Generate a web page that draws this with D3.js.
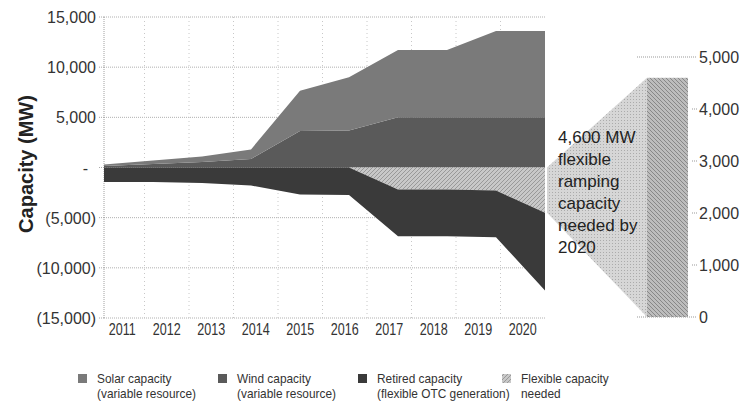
<!DOCTYPE html>
<html>
<head>
<meta charset="utf-8">
<script src="https://cdn.jsdelivr.net/npm/d3@7"></script>
<style>
  body { margin: 0; background: #fff; }
  svg { display: block; font-family: "Liberation Sans", Arial, sans-serif; }
</style>
</head>
<body>
<svg id="chart" width="744" height="408"></svg>
<script>
// data (MW)
const years = ["2011", "2012", "2013", "2014", "2015", "2016", "2017", "2018", "2019", "2020"];
const wind = [150, 350, 550, 850, 3650, 3700, 5000, 5000, 5000, 5000];
const solar = [150, 350, 550, 950, 4000, 5300, 6700, 6700, 8600, 8600];
const flexible = [0, 0, 0, 0, 0, 0, -2200, -2200, -2300, -4500];
const retired = [-1450, -1450, -1550, -1800, -2700, -2750, -4650, -4650, -4650, -7750];
const leftTicks = [15000, 10000, 5000, 0, -5000, -10000, -15000];
const rightTicks = [0, 1000, 2000, 3000, 4000, 5000];
const flexNeeded2020 = 4600;
const noteLines = ["4,600 MW", "flexible", "ramping", "capacity", "needed by", "2020"];
const legendItems = [
  { key: "solar", l1: "Solar capacity", l2: "(variable resource)" },
  { key: "wind", l1: "Wind capacity", l2: "(variable resource)" },
  { key: "retired", l1: "Retired capacity", l2: "(flexible OTC generation)" },
  { key: "flexible", l1: "Flexible capacity", l2: "needed" }
];

const fills = {
  solar: "#7a7a7a",
  wind: "#5a5a5a",
  retired: "#3a3a3a",
  flexible: "url(#flexHatch)"
};

const svg = d3.select("#chart");
const defs = svg.append("defs");

// hatch patterns
const p1 = defs.append("pattern").attr("id", "flexHatch")
  .attr("width", 4).attr("height", 4).attr("patternUnits", "userSpaceOnUse");
p1.append("rect").attr("width", 4).attr("height", 4).attr("fill", "#c8c8c8");
p1.append("path").attr("d", "M0,4 L4,0 M-1,1 L1,-1 M3,5 L5,3")
  .attr("stroke", "#999").attr("stroke-width", 1);

const p2 = defs.append("pattern").attr("id", "barHatch")
  .attr("width", 4).attr("height", 4).attr("patternUnits", "userSpaceOnUse");
p2.append("rect").attr("width", 4).attr("height", 4).attr("fill", "#bdbdbd");
p2.append("path").attr("d", "M0,0 L4,4 M-1,3 L1,5 M3,-1 L5,1")
  .attr("stroke", "#888").attr("stroke-width", 1);

const p3 = defs.append("pattern").attr("id", "trapDots")
  .attr("width", 3).attr("height", 3).attr("patternUnits", "userSpaceOnUse");
p3.append("rect").attr("width", 3).attr("height", 3).attr("fill", "#d6d6d6");
p3.append("rect").attr("width", 1).attr("height", 1).attr("fill", "#ababab");

// scales
const plotLeft = 104, plotRight = 545, plotTop = 17, plotBottom = 318;
const y = d3.scaleLinear().domain([-15000, 15000]).range([plotBottom, plotTop]);
const xPt = d3.scalePoint().domain(years).range([plotLeft, plotRight]);
const xBand = d3.scaleBand().domain(years).range([100, plotRight]);
const yR = d3.scaleLinear().domain([0, 5000]).range([317, 57]);

// gridlines
const grid = svg.append("g");
grid.selectAll(".hg").data(leftTicks).join("line")
  .attr("x1", plotLeft).attr("x2", plotRight)
  .attr("y1", d => y(d)).attr("y2", d => y(d))
  .attr("stroke", "#b0b0b0").attr("stroke-dasharray", "1,1");
grid.selectAll(".vg").data(years.slice(1)).join("line")
  .attr("x1", d => xBand(d)).attr("x2", d => xBand(d))
  .attr("y1", plotTop).attr("y2", plotBottom)
  .attr("stroke", "#c8c8c8").attr("stroke-dasharray", "1,3");
grid.append("line")
  .attr("x1", plotLeft).attr("x2", plotLeft)
  .attr("y1", plotTop).attr("y2", plotBottom)
  .attr("stroke", "#a0a0a0").attr("stroke-dasharray", "1,1");

// stacked areas
const rows = years.map((yr, i) => ({
  year: yr, wind: wind[i], solar: solar[i], flexible: flexible[i], retired: retired[i]
}));
const series = d3.stack()
  .keys(["wind", "solar", "flexible", "retired"])
  .offset(d3.stackOffsetDiverging)(rows);

const area = d3.area()
  .x(d => xPt(d.data.year))
  .y0(d => y(d[0]))
  .y1(d => y(d[1]));

svg.append("g").selectAll("path").data(series).join("path")
  .attr("d", area)
  .attr("fill", d => fills[d.key]);

// right panel: wedge and bar for 2020 flexible need
const flexSeries = series.find(s => s.key === "flexible");
const flexLast = flexSeries[flexSeries.length - 1];
const barX0 = 647, barX1 = 688;
svg.append("path")
  .attr("d", d3.line()([
    [plotRight + 2, y(flexLast[1])],
    [barX0, yR(flexNeeded2020)],
    [barX0, yR(0)],
    [plotRight + 2, y(flexLast[0])]
  ]) + "Z")
  .attr("fill", "url(#trapDots)");
svg.append("rect")
  .attr("x", barX0).attr("width", barX1 - barX0)
  .attr("y", yR(flexNeeded2020)).attr("height", yR(0) - yR(flexNeeded2020))
  .attr("fill", "url(#barHatch)");

// right axis
const rAxis = svg.append("g");
rAxis.selectAll("line.t").data(rightTicks).join("line")
  .attr("x1", d => (d === 0 || d === 5000) ? 637 : 692).attr("x2", 697)
  .attr("y1", d => yR(d)).attr("y2", d => yR(d))
  .attr("stroke", "#999").attr("stroke-dasharray", "1,1");
rAxis.selectAll("text").data(rightTicks).join("text")
  .attr("x", 699).attr("y", d => yR(d) + 6)
  .attr("font-size", 16).attr("fill", "#333")
  .text(d => d3.format(",")(d));

// annotation
svg.append("text")
  .attr("x", 558).attr("y", 143)
  .attr("font-size", 17).attr("fill", "#222")
  .selectAll("tspan").data(noteLines).join("tspan")
  .attr("x", 558).attr("dy", (d, i) => i === 0 ? 0 : 22)
  .text(d => d);

// left axis labels
const fmtLeft = v => v === 0 ? "-" : v < 0 ? "(" + d3.format(",")(-v) + ")" : d3.format(",")(v);
svg.append("g").selectAll("text").data(leftTicks).join("text")
  .attr("x", d => d === 0 ? 88 : 96).attr("y", d => y(d) + 6)
  .attr("text-anchor", "end").attr("font-size", 16).attr("fill", "#333")
  .text(fmtLeft);
svg.append("g").selectAll("line").data(leftTicks).join("line")
  .attr("x1", 99).attr("x2", plotLeft)
  .attr("y1", d => y(d)).attr("y2", d => y(d))
  .attr("stroke", "#aaa").attr("stroke-dasharray", "1,1");

svg.append("text")
  .attr("transform", "translate(33,164) rotate(-90)")
  .attr("text-anchor", "middle").attr("font-size", 20).attr("font-weight", "bold")
  .attr("fill", "#222")
  .text("Capacity (MW)");

// year labels (condensed look)
svg.append("g").selectAll("text").data(years).join("text")
  .attr("transform", d => `translate(${xBand(d) + xBand.bandwidth() / 2},335) scale(0.74,1)`)
  .attr("text-anchor", "middle").attr("font-size", 17)
  .attr("fill", "#333")
  .text(d => d);

// legend
const legendX = [78, 218, 358, 502];
const lg = svg.append("g").attr("font-size", 12.5).attr("fill", "#333");
legendItems.forEach((it, i) => {
  const g = lg.append("g").attr("transform", `translate(${legendX[i]},0)`);
  g.append("rect").attr("x", 0).attr("y", 374).attr("width", 9).attr("height", 9)
    .attr("fill", fills[it.key]);
  g.append("text").attr("transform", "translate(19,383) scale(0.95,1)").text(it.l1);
  g.append("text").attr("transform", "translate(19,398) scale(0.95,1)").text(it.l2);
});
</script>
</body>
</html>
